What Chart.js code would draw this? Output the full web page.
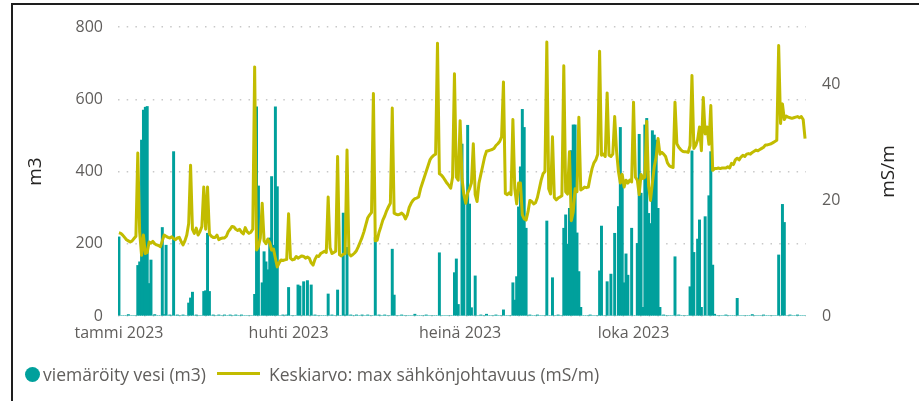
<!DOCTYPE html>
<html>
<head>
<meta charset="utf-8">
<script src="https://cdn.jsdelivr.net/npm/chart.js@4.4.0/dist/chart.umd.min.js"></script>
<style>
html,body{margin:0;padding:0;background:#fff;width:919px;height:401px;overflow:hidden;}
#wrap{position:absolute;left:0;top:0;width:919px;height:401px;}
#c{position:absolute;left:0;top:0;}
#frameTop{position:absolute;left:11px;top:3px;width:908px;height:2px;background:#1e1e1e;}
#frameLeft{position:absolute;left:11px;top:3px;width:2px;height:398px;background:#1e1e1e;}
.lg{position:absolute;font-family:'Open Sans',sans-serif;font-size:17.5px;line-height:22px;color:#605E5C;white-space:nowrap;}
#lgDot{position:absolute;left:25px;top:367px;width:15px;height:15px;border-radius:50%;background:#00A09C;}
#lgLine{position:absolute;left:217px;top:372px;width:43px;height:3px;background:#C2BC00;}
</style>
</head>
<body>
<div id="wrap">
<canvas id="c" width="919" height="401"></canvas>
<div id="frameTop"></div>
<div id="frameLeft"></div>
<div id="lgDot"></div>
<div class="lg" id="lgText1" style="left:43px;top:363px;"></div>
<div id="lgLine"></div>
<div class="lg" id="lgText2" style="left:269px;top:363px;"></div>
</div>
<script>
// ---- data ----
const seriesBarName = 'viemäröity vesi (m3)';
const seriesLineName = 'Keskiarvo: max sähkönjohtavuus (mS/m)';
const leftAxisTitle = 'm3';
const rightAxisTitle = 'mS/m';
const monthTickIndex = [0, 90, 181, 273];
const monthTickText = ['tammi 2023', 'huhti 2023', 'heinä 2023', 'loka 2023'];
const leftTicks = [0, 200, 400, 600, 800];
const rightTicks = [0, 20, 40];

// daily drained water (m3), 2023-01-01 .. 2023-12-31
const waterM3 = [
219,0,0,0,0,4,0,0,0,0,
140,150,487,570,578,580,90,155,0,4,
0,0,0,245,4,196,0,3,0,455,
0,3,0,0,3,0,0,36,50,66,
0,3,0,0,0,68,70,229,68,0,
3,0,0,3,0,0,3,0,0,3,
0,0,3,0,0,3,0,0,0,0,
0,0,60,579,360,0,92,178,150,128,
216,386,196,579,358,0,0,3,0,3,
79,0,0,0,0,86,83,0,95,0,
98,0,86,0,3,0,0,0,0,0,
0,61,0,3,0,0,72,0,0,285,
3,190,0,3,0,0,3,0,0,3,
0,0,3,0,0,0,217,0,3,0,
0,3,0,0,0,185,58,0,0,0,
3,0,0,0,0,0,0,5,0,0,
0,0,0,3,0,0,0,0,0,0,
175,0,0,0,0,0,0,0,120,158,
32,0,476,330,0,528,310,23,0,111,
0,0,3,0,0,5,0,0,0,0,
3,0,0,0,17,0,0,0,0,92,
44,109,302,413,572,522,243,0,3,0,
0,0,3,0,0,0,0,263,0,0,
106,0,0,3,0,0,243,280,199,298,
458,529,529,230,123,24,0,0,0,0,
3,0,0,0,0,125,249,0,0,95,
0,116,0,229,0,303,522,367,92,172,
113,0,243,0,0,201,503,340,24,529,
547,284,256,513,501,487,298,24,0,3,
0,0,0,0,0,164,0,3,0,0,
0,0,0,81,457,176,0,213,266,24,
0,275,0,333,455,141,5,0,0,0,
0,0,3,0,0,0,0,0,49,0,
0,0,0,0,0,0,4,0,0,0,
0,0,3,0,0,0,0,0,0,0,
169,0,309,259,0,0,3,0,0,0,
3,0,0,0,0
];

// daily average of max conductivity (mS/m)
const conductivity = [
14.4,14.3,14.0,13.6,13.2,13.0,12.8,13.0,13.4,13.8,
28.2,14.5,10.5,14.0,10.8,11.0,12.8,12.6,12.9,12.5,
12.3,12.2,12.0,13.0,14.0,13.8,13.6,13.5,13.7,13.4,
13.2,13.5,13.6,12.9,12.3,13.0,14.0,16.0,26.1,15.0,
14.3,15.2,14.0,14.6,15.5,22.3,15.0,22.3,14.2,13.8,
13.6,13.6,14.0,13.2,13.4,13.5,13.5,13.8,14.6,15.0,
15.5,15.4,15.0,14.8,15.0,14.5,14.2,15.3,14.6,14.3,
14.5,15.0,43.1,11.4,12.0,13.5,19.5,13.0,12.5,13.3,
12.7,11.4,11.6,10.0,8.5,9.2,9.7,9.6,9.7,9.8,
17.7,10.0,9.7,9.8,10.3,10.0,10.2,10.4,10.3,10.0,
10.2,10.0,9.2,8.8,9.8,10.4,10.3,10.8,11.0,11.2,
11.0,20.6,11.8,10.8,11.0,11.2,27.6,10.6,10.4,10.7,
10.8,28.7,10.8,10.4,10.6,10.9,11.3,12.0,12.8,13.6,
14.6,15.8,17.0,17.5,17.9,38.5,13.0,13.1,14.5,15.5,
16.6,17.3,18.2,18.9,19.5,36.0,17.8,17.6,17.5,17.6,
17.8,17.5,16.8,17.5,18.8,19.5,20.0,20.3,20.4,20.6,
22.0,23.0,24.0,25.0,26.0,27.0,27.5,27.8,28.0,47.2,
24.6,24.4,24.0,23.5,23.0,22.6,22.1,24.0,41.9,24.0,
23.5,33.8,23.8,21.0,19.5,21.3,22.0,23.0,29.8,21.0,
19.8,23.0,24.5,26.0,27.5,28.5,28.6,28.7,28.8,29.0,
29.5,29.8,30.2,31.0,40.5,21.2,21.0,21.3,21.0,34.0,
22.0,19.4,23.0,23.0,17.5,16.8,16.6,18.0,20.0,19.8,
19.4,19.6,20.5,22.0,23.5,24.6,25.0,47.4,22.0,21.1,
31.0,20.5,20.1,20.4,20.6,20.8,43.3,21.5,21.1,28.4,
16.5,18.0,22.0,21.5,34.4,21.8,22.0,22.3,22.2,22.3,
24.0,25.5,26.5,27.0,28.0,45.8,27.8,28.0,27.6,38.6,
27.8,27.6,28.0,34.5,28.5,25.0,23.0,24.5,22.3,23.5,
23.0,23.5,23.2,37.0,24.0,23.5,21.0,24.5,23.8,24.0,
33.7,22.5,20.0,23.0,25.8,27.5,30.7,28.0,28.3,28.0,
27.6,26.5,26.0,25.8,25.7,37.0,29.8,29.2,28.8,28.5,
28.4,28.4,28.3,29.5,41.6,29.0,29.5,30.5,32.7,28.6,
37.8,31.5,32.7,29.7,36.4,25.2,25.5,25.5,25.6,25.5,
25.6,25.6,25.6,25.8,25.6,26.4,26.2,27.0,27.3,27.0,
27.5,27.8,27.6,28.0,28.1,28.0,28.3,28.5,28.7,28.6,
28.8,29.0,29.2,29.6,29.6,29.7,29.8,30.0,30.2,30.4,
46.8,33.3,36.7,34.0,34.6,34.4,34.3,34.2,34.3,34.4,
34.5,34.3,34.5,34.0,30.7
];

// category labels: one per day of 2023
const dayLabels = [];
for (let i = 0; i < 365; i++) {
  const d = new Date(Date.UTC(2023, 0, 1 + i));
  dayLabels.push(d.toISOString().slice(0, 10));
}

document.getElementById('lgText1').textContent = seriesBarName;
document.getElementById('lgText2').textContent = seriesLineName;

const FONT = "'Open Sans', sans-serif";
const TICK_COLOR = '#605E5C';
const TITLE_COLOR = '#252423';
const BAR_COLOR = '#00A09C';
const LINE_COLOR = '#C2BC00';

const rightTitlePlugin = {
  id: 'rightTitle',
  afterDraw(chart) {
    const ctx = chart.ctx;
    const ca = chart.chartArea;
    ctx.save();
    ctx.translate(889, (ca.top + ca.bottom) / 2);
    ctx.rotate(-Math.PI / 2);
    ctx.font = "19px " + FONT;
    ctx.fillStyle = TITLE_COLOR;
    ctx.textAlign = 'center';
    ctx.textBaseline = 'middle';
    ctx.fillText(rightAxisTitle, 0, 0);
    ctx.restore();
  }
};

new Chart(document.getElementById('c'), {
  type: 'bar',
  data: {
    labels: dayLabels,
    datasets: [
      {
        type: 'line',
        label: seriesLineName,
        data: conductivity,
        yAxisID: 'y1',
        borderColor: LINE_COLOR,
        backgroundColor: LINE_COLOR,
        borderWidth: 3,
        pointRadius: 0,
        tension: 0,
        borderJoinStyle: 'round',
        order: 0
      },
      {
        type: 'bar',
        label: seriesBarName,
        data: waterM3,
        yAxisID: 'y',
        backgroundColor: BAR_COLOR,
        borderWidth: 0,
        barThickness: 2.3,
        order: 1
      }
    ]
  },
  options: {
    responsive: false,
    animation: false,
    events: [],
    layout: { padding: { top: 27, bottom: 55, left: 0, right: 0 } },
    plugins: { legend: { display: false }, tooltip: { enabled: false } },
    scales: {
      x: {
        type: 'category',
        offset: true,
        grid: { display: false, drawTicks: false },
        border: { display: false },
        ticks: {
          autoSkip: false, maxRotation: 0, minRotation: 0, padding: 8,
          color: TICK_COLOR, font: { family: FONT, size: 16 },
          callback: function (value) {
            const k = monthTickIndex.indexOf(value);
            return k >= 0 ? monthTickText[k] : null;
          }
        },
        afterBuildTicks: (s) => { s.ticks = s.ticks.filter(t => monthTickIndex.includes(t.value)); },
        afterFit: (s) => { s.height = 30; }
      },
      y: {
        position: 'left',
        min: 0, max: 800,
        grid: { color: '#C8C8C8', lineWidth: 1.5, drawTicks: false },
        border: { display: false, dash: [1.5, 7.2] },
        ticks: { stepSize: 200, padding: 15, color: TICK_COLOR, font: { family: FONT, size: 16 } },
        afterBuildTicks: (s) => { s.ticks = leftTicks.map(v => ({ value: v })); },
        title: { display: true, text: leftAxisTitle, color: TITLE_COLOR, font: { family: FONT, size: 19 }, padding: { top: 24, bottom: 0 } },
        afterFit: (s) => { s.width = 118; }
      },
      y1: {
        position: 'right',
        min: 0, max: 50,
        grid: { display: false, drawTicks: false },
        border: { display: false },
        ticks: { stepSize: 20, padding: 16, color: TICK_COLOR, font: { family: FONT, size: 16 } },
        afterBuildTicks: (s) => { s.ticks = rightTicks.map(v => ({ value: v })); },
        afterFit: (s) => { s.width = 113; }
      }
    }
  },
  plugins: [rightTitlePlugin]
});
</script>
</body>
</html>
